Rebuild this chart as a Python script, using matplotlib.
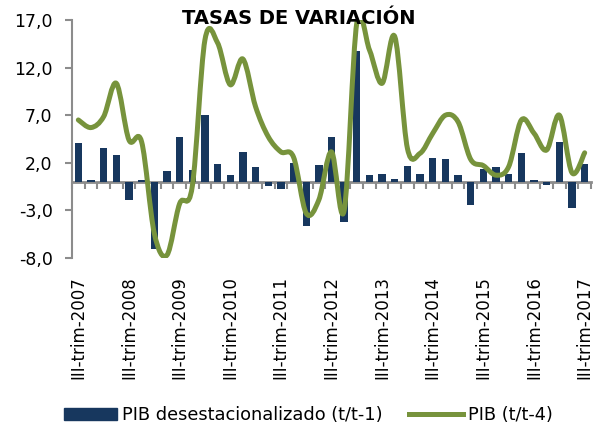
import matplotlib
matplotlib.use("Agg")
import matplotlib.pyplot as plt
import numpy as np
from matplotlib.path import Path
from matplotlib.patches import PathPatch, Patch
from matplotlib.lines import Line2D

quarters = [f"{q}-trim-{y}" for y in range(2007, 2018) for q in ["I", "II", "III", "IV"]][2:43]
bar_values = [4.1, 0.15, 3.6, 2.85, -1.9, 0.15, -7.1, 1.1, 4.7, 1.2,
              7.0, 1.9, 0.7, 3.1, 1.6, -0.45, -0.8, 2.0, -4.65, 1.8,
              4.7, -4.25, 13.75, 0.7, 0.85, 0.3, 1.65, 0.85, 2.55, 2.4,
              0.7, -2.45, 1.35, 1.6, 0.8, 3.0, 0.15, -0.3, 4.2, -2.8, 1.9]
line_values = [6.5, 5.7, 6.85, 10.35, 4.4, 4.2, -5.4, -7.7, -2.3, -0.5,
               14.9, 14.6, 10.2, 12.9, 7.9, 4.75, 3.15, 2.6, -3.3, -1.9,
               3.15, -3.0, 16.7, 13.85, 10.35, 15.25, 3.5, 3.0, 5.1, 7.0,
               6.3, 2.35, 1.7, 0.7, 1.6, 6.5, 5.1, 3.35, 7.0, 0.95, 3.05]
yticks = [-8, -3, 2, 7, 12, 17]
title = "TASAS DE VARIACIÓN"
bar_label = "PIB desestacionalizado (t/t-1)"
line_label = "PIB (t/t-4)"

bar_color = "#17375E"
line_color = "#77933C"
axis_color = "#8C8C8C"

fig = plt.figure(figsize=(6, 4.32), dpi=100)
ax = fig.add_axes([0.12, 0.4028, 0.865, 0.5509])

x = np.arange(len(quarters))
ax.bar(x, bar_values, width=0.58, color=bar_color, zorder=2)

# smooth line (Catmull-Rom -> cubic Bezier)
pts = np.column_stack([x, line_values]).astype(float)
verts = [pts[0]]
codes = [Path.MOVETO]
n = len(pts)
for i in range(n - 1):
    p0 = pts[i - 1] if i > 0 else pts[i]
    p1 = pts[i]
    p2 = pts[i + 1]
    p3 = pts[i + 2] if i + 2 < n else pts[i + 1]
    c1 = p1 + (p2 - p0) / 6.0
    c2 = p2 - (p3 - p1) / 6.0
    verts += [c1, c2, p2]
    codes += [Path.CURVE4] * 3
ax.add_patch(PathPatch(Path(verts, codes), fill=False, edgecolor=line_color,
                       lw=3.6, capstyle="round", joinstyle="round", zorder=3))

ax.set_xlim(-0.5, len(quarters) - 0.5)
ax.set_ylim(-8, 17)
ax.set_yticks(yticks)
ax.set_yticklabels([f"{v:.1f}".replace(".", ",") for v in yticks], fontsize=12.5)

for s in ["top", "right", "bottom"]:
    ax.spines[s].set_visible(False)
ax.spines["left"].set_color(axis_color)
ax.spines["left"].set_linewidth(1.5)
ax.tick_params(axis="y", color=axis_color, width=1.5, length=5, pad=9)

# category labels at bottom
lab_pos = x[::4]
ax.set_xticks(lab_pos)
ax.set_xticklabels([quarters[i] for i in lab_pos], rotation=90, fontsize=12)
ax.tick_params(axis="x", length=0, pad=13)

# zero axis with tick marks at category boundaries
sec = ax.secondary_xaxis(8 / 25)
sec.set_xticks(np.arange(-0.5, len(quarters), 1.0))
sec.set_xticklabels([])
sec.spines["bottom"].set_color(axis_color)
sec.spines["bottom"].set_linewidth(2)
sec.tick_params(axis="x", color=axis_color, width=1.5, length=5, direction="out")

fig.text(299 / 600, 1 - 18 / 432, title, ha="center", va="center",
         fontsize=14, fontweight="bold")

handles = [Patch(facecolor=bar_color, edgecolor=bar_color),
           Line2D([0], [0], color=line_color, lw=3.6)]
fig.legend(handles, [bar_label, line_label], loc="center",
           bbox_to_anchor=(308 / 600, 1 - 415 / 432), ncol=2, frameon=False,
           fontsize=12.8, handlelength=3.0, handleheight=0.65,
           columnspacing=1.5, handletextpad=0.28)

fig.savefig("out.png", dpi=100)
